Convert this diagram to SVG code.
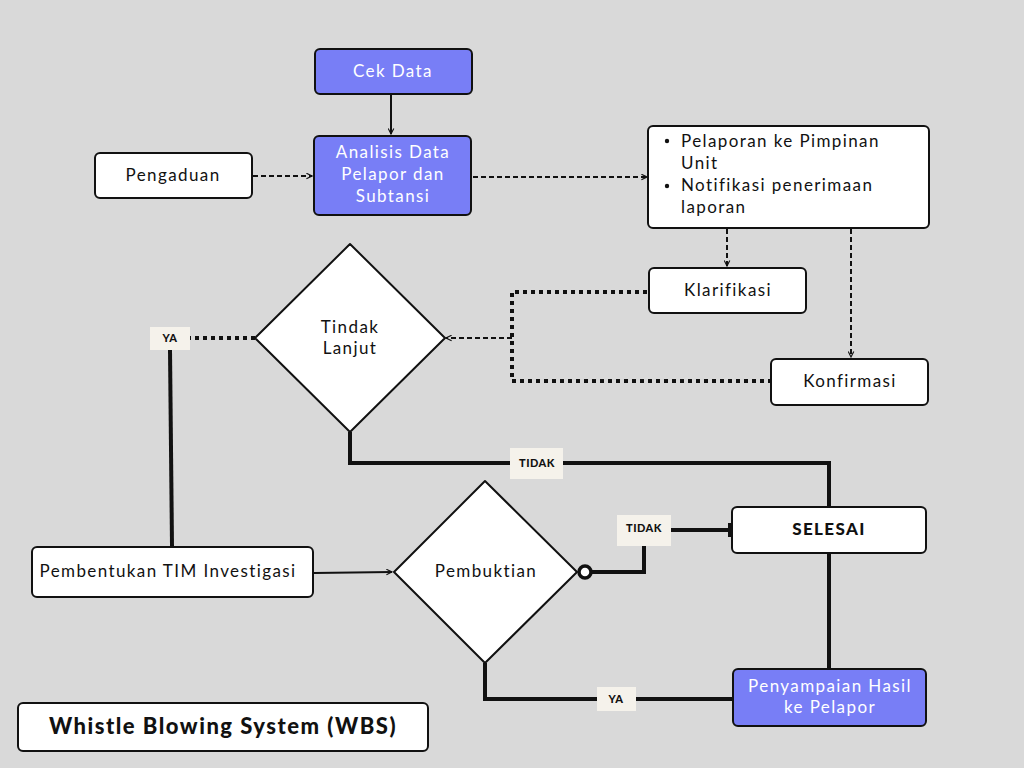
<svg xmlns="http://www.w3.org/2000/svg" width="1024" height="768" viewBox="0 0 1024 768">
<defs>
<style>
.box{fill:#fff;stroke:#111;stroke-width:2}
.blue{fill:#787ef6;stroke:#111;stroke-width:2}
.dia{fill:#fff;stroke:#111;stroke-width:2;stroke-linejoin:round}
.t{font-family:Lato,"Liberation Sans",sans-serif;font-size:17px;fill:#111;letter-spacing:1.4px}
.w{fill:#fff}
.lbl{fill:#f5f2eb}
.lt{font-family:Lato,"Liberation Sans",sans-serif;font-size:11px;font-weight:900;fill:#111;letter-spacing:0.5px}
.thin{fill:none;stroke:#111;stroke-width:2}
.dash{fill:none;stroke:#111;stroke-width:2;stroke-dasharray:5,3}
.dot{fill:none;stroke:#111;stroke-width:4;stroke-dasharray:4,4}
.thick{fill:none;stroke:#111;stroke-width:4}
</style>
<marker id="ar" viewBox="0 0 10 10" refX="9" refY="5" markerWidth="7" markerHeight="7" markerUnits="userSpaceOnUse" orient="auto"><path d="M1,1 L9,5 L1,9" fill="none" stroke="#111" stroke-width="1.6"/></marker>
</defs>
<rect width="1024" height="768" fill="#d9d9d9"/>
<g id="connectors">
<path class="thin" d="M391,95 V134" marker-end="url(#ar)"/>
<path class="dash" d="M253,176 H312" marker-end="url(#ar)"/>
<path class="dash" d="M473,177 H647" marker-end="url(#ar)"/>
<path class="dash" d="M727,229 V266" marker-end="url(#ar)"/>
<path class="dash" d="M851,229 V357" marker-end="url(#ar)"/>
<path class="dot" d="M647,292 H512 V381 H770"/>
<path class="dash" d="M512,338 H446" marker-end="url(#ar)"/>
<path class="dot" d="M255,338 H190"/>
<path class="thick" d="M170,350 L172,546"/>
<path class="thin" d="M314,573 L392,572" marker-end="url(#ar)"/>
<path class="thick" d="M350,432 V463 H829 V507"/>
<path class="thick" d="M829,554 V669"/>
<circle cx="585" cy="572" r="6" fill="#fff" stroke="#111" stroke-width="3.5"/>
<path class="thick" d="M591,572 H644 V546"/>
<path class="thick" d="M671,530 H730"/>
<path d="M730,523 V537" stroke="#111" stroke-width="4"/>
<path class="thick" d="M485,663 V699 H733"/>
<rect class="lbl" x="150" y="327" width="40" height="23"/>
<text class="lt" x="170" y="342" text-anchor="middle">YA</text>
<rect class="lbl" x="510" y="448" width="53" height="31"/>
<text class="lt" x="537" y="467" text-anchor="middle">TIDAK</text>
<rect class="lbl" x="617" y="515" width="54" height="31"/>
<text class="lt" x="644" y="532" text-anchor="middle">TIDAK</text>
<rect class="lbl" x="597" y="687" width="39" height="24"/>
<text class="lt" x="616" y="703" text-anchor="middle">YA</text>
</g>
<g id="cek-data">
<rect class="blue" x="315" y="49" width="157" height="45" rx="5"/>
<text class="t w" x="393" y="77" text-anchor="middle">Cek Data</text>
</g>
<g id="analisis">
<rect class="blue" x="314" y="136" width="157" height="79" rx="5"/>
<text class="t w" x="393" y="158" text-anchor="middle">Analisis Data</text>
<text class="t w" x="393" y="180" text-anchor="middle">Pelapor dan</text>
<text class="t w" x="393" y="202" text-anchor="middle">Subtansi</text>
</g>
<g id="pengaduan">
<rect class="box" x="95" y="153" width="157" height="45" rx="5"/>
<text class="t" x="173" y="181" text-anchor="middle">Pengaduan</text>
</g>
<g id="pelaporan">
<rect class="box" x="648" y="126" width="281" height="102" rx="5"/>
<circle cx="667" cy="141" r="2.2" fill="#111"/>
<circle cx="667" cy="186" r="2.2" fill="#111"/>
<text class="t" x="681" y="147">Pelaporan ke Pimpinan</text>
<text class="t" x="681" y="169">Unit</text>
<text class="t" x="681" y="191">Notifikasi penerimaan</text>
<text class="t" x="681" y="213">laporan</text>
</g>
<g id="klarifikasi">
<rect class="box" x="649" y="268" width="157" height="45" rx="5"/>
<text class="t" x="728" y="296" text-anchor="middle">Klarifikasi</text>
</g>
<g id="konfirmasi">
<rect class="box" x="771" y="359" width="157" height="46" rx="5"/>
<text class="t" x="850" y="387" text-anchor="middle">Konfirmasi</text>
</g>
<g id="tindak-lanjut">
<path class="dia" d="M350,244 L445,338 L350,432 L255,338 Z"/>
<text class="t" x="350" y="333" text-anchor="middle">Tindak</text>
<text class="t" x="350" y="354" text-anchor="middle">Lanjut</text>
</g>
<g id="pembentukan">
<rect class="box" x="32" y="547" width="281" height="50" rx="5"/>
<text class="t" x="168" y="577" text-anchor="middle">Pembentukan TIM Investigasi</text>
</g>
<g id="pembuktian">
<path class="dia" d="M485,481 L577,572 L485,663 L394,572 Z"/>
<text class="t" x="486" y="577" text-anchor="middle">Pembuktian</text>
</g>
<g id="selesai">
<rect class="box" x="732" y="507" width="194" height="46" rx="5"/>
<text class="t" x="829" y="535" text-anchor="middle" font-weight="900">SELESAI</text>
</g>
<g id="penyampaian">
<rect class="blue" x="733" y="669" width="193" height="57" rx="5"/>
<text class="t w" x="830" y="692" text-anchor="middle">Penyampaian Hasil</text>
<text class="t w" x="830" y="713" text-anchor="middle">ke Pelapor</text>
</g>
<g id="title">
<rect class="box" x="18" y="703" width="410" height="48" rx="5"/>
<text x="223" y="734" text-anchor="middle" font-family="Lato,'Liberation Sans',sans-serif" font-size="22" font-weight="900" letter-spacing="1.5" fill="#111">Whistle Blowing System (WBS)</text>
</g>
</svg>
